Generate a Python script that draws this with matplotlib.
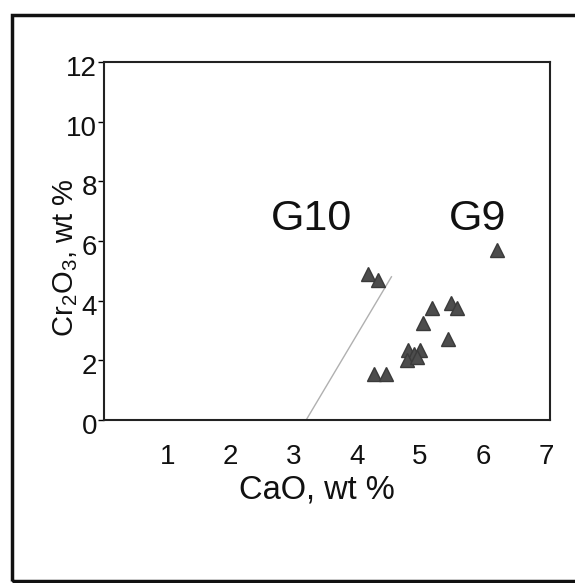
import matplotlib
matplotlib.use("Agg")
import matplotlib.pyplot as plt
from matplotlib.patches import Rectangle
from matplotlib.transforms import ScaledTranslation

plt.rcParams['font.family'] = ['Liberation Sans', 'DejaVu Sans']
plt.rcParams['mathtext.fontset'] = 'custom'
plt.rcParams['mathtext.rm'] = 'Liberation Sans'
plt.rcParams['mathtext.default'] = 'regular'

# data
cao = [4.18, 4.34, 6.22, 5.20, 5.50, 5.58, 5.05, 5.45, 4.82, 5.00, 4.90, 4.80, 4.95, 4.27, 4.46]
cr2o3 = [4.90, 4.70, 5.70, 3.76, 3.93, 3.76, 3.26, 2.70, 2.35, 2.35, 2.20, 2.00, 2.10, 1.55, 1.55]
line_x = [3.2, 4.55]
line_y = [0.0, 4.8]
x_ticks = [1, 2, 3, 4, 5, 6, 7]
y_ticks = [0, 2, 4, 6, 8, 10, 12]
labels = [("G10", 3.29, 6.75), ("G9", 5.92, 6.75)]

fig = plt.figure(figsize=(5.75, 5.83), dpi=100)
fig.patches.append(Rectangle((12/575, 2/583), 1.2, (581-15)/583, transform=fig.transFigure,
                             fill=False, edgecolor='#111111', linewidth=2.5))

ax = fig.add_axes([104/575, (583-420)/583, (550-104)/575, (420-62)/583])
ax.set_xlim(0, 7.06)
ax.set_ylim(0, 12)

ax.plot(line_x, line_y, color='#b0b0b0', linewidth=1.0, zorder=1)
ax.plot(cao, cr2o3, linestyle='none', marker='^', markersize=10,
        color='#4d4d4d', markeredgecolor='#3a3a3a', zorder=3)

for txt, x, y in labels:
    ax.text(x, y, txt, fontsize=31, ha='center', va='center', color='#111111')

ax.set_xticks(x_ticks)
ax.set_yticks(y_ticks)
ax.tick_params(axis='x', length=0, pad=17, labelsize=20, labelcolor='#111111')
ax.tick_params(axis='y', length=4, width=1, pad=1, labelsize=20, labelcolor='#111111')
for lab in ax.get_yticklabels():
    lab.set_transform(lab.get_transform() + ScaledTranslation(0, -4/100, fig.dpi_scale_trans))
for s in ax.spines.values():
    s.set_linewidth(1.5)
    s.set_color('#222222')

fig.text(317/575, (583-490)/583, 'CaO, wt %', fontsize=23.5, ha='center', va='center', color='#111111')
fig.text(66/575, (583-258)/583, r'Cr$_2$O$_3$, wt %', fontsize=21, rotation=90,
         ha='center', va='center', color='#111111')

fig.savefig('out.png', dpi=100)
